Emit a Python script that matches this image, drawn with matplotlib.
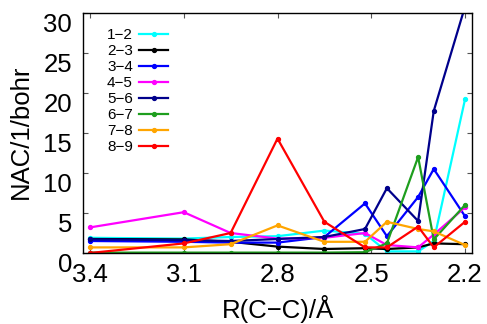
import matplotlib
matplotlib.use("Agg")
import matplotlib.pyplot as plt

plt.rcParams['font.family'] = ['Liberation Sans', 'DejaVu Sans']

# Data
r_cc = [3.4, 3.1, 2.95, 2.8, 2.65, 2.52, 2.45, 2.35, 2.3, 2.2]
labels = ["1\u22122", "2\u22123", "3\u22124", "4\u22125", "5\u22126", "6\u22127", "7\u22128", "8\u22129"]
nac_12 = [1.9, 1.8, 2.0, 2.1, 2.8, 2.4, 0.2, 0.2, 1.5, 19.2]
nac_23 = [1.75, 1.7, 1.4, 0.8, 0.5, 0.6, 0.5, 0.7, 1.2, 1.1]
nac_34 = [1.5, 1.4, 1.3, 1.3, 2.0, 6.2, 2.1, 7.0, 10.5, 4.6]
nac_45 = [3.2, 5.1, 2.5, 1.8, 1.9, 2.5, 1.0, 0.7, 2.3, 5.7]
nac_56 = [1.7, 1.6, 1.5, 1.75, 2.0, 3.0, 8.1, 4.0, 17.75, 30.8]
nac_67 = [0.05, 0.05, 0.05, 0.05, 0.05, 0.1, 1.2, 12.0, 1.7, 6.0]
nac_78 = [0.7, 0.7, 1.1, 3.45, 1.4, 1.4, 3.9, 3.0, 2.7, 1.0]
nac_89 = [0.0, 1.2, 2.5, 14.3, 3.9, 0.7, 0.7, 3.3, 0.7, 3.9]
series = [nac_12, nac_23, nac_34, nac_45, nac_56, nac_67, nac_78, nac_89]
colors = ['#00FFFF', '#000000', '#0000FF', '#FF00FF', '#00008B', '#1E9E1E', '#FFA500', '#FF0000']

xticks = [3.4, 3.1, 2.8, 2.5, 2.2]
yticks = [0, 5, 10, 15, 20, 25, 30]

W, H = 487, 324
fig = plt.figure(figsize=(W / 100, H / 100), dpi=100)
ax = fig.add_axes([83 / W, 1 - 253 / H, (472 - 83) / W, (253 - 13) / H])

for ys, c, lab in zip(series, colors, labels):
    ax.plot(r_cc, ys, color=c, lw=1.6, marker='o', ms=2.8, label=lab)

ax.set_xlim(3.4224, 2.1776)
ax.set_ylim(0, 30)
ax.set_xticks(xticks)
ax.set_xticklabels([f"{v:.1f}" for v in xticks])
ax.set_yticks(yticks)
ax.set_yticklabels([str(v) for v in yticks])
ax.tick_params(direction='in', length=3.5, width=0.8, color='#555555',
               top=True, right=True, labelsize=18.5)
ax.tick_params(axis='x', pad=7)
ax.tick_params(axis='y', pad=8)
for lbl in ax.get_yticklabels():
    lbl.set_verticalalignment('top')
for s in ax.spines.values():
    s.set_linewidth(1.0)

fig.text(21 / W, 1 - 132 / H, "NAC/1/bohr", rotation=90, ha='center', va='center', fontsize=18.5)
fig.text(278 / W, 1 - 318 / H, "R(C\u2212C)/\u00c5", ha='center', va='baseline', fontsize=18.5)

ax.legend(loc='upper left', bbox_to_anchor=(107 / W, 1 - 28 / H), bbox_transform=fig.transFigure,
          frameon=False, markerfirst=False, fontsize=11, labelspacing=0.13,
          handlelength=1.9, handletextpad=0.4, borderpad=0, borderaxespad=0)

fig.savefig("out.png", dpi=100)
